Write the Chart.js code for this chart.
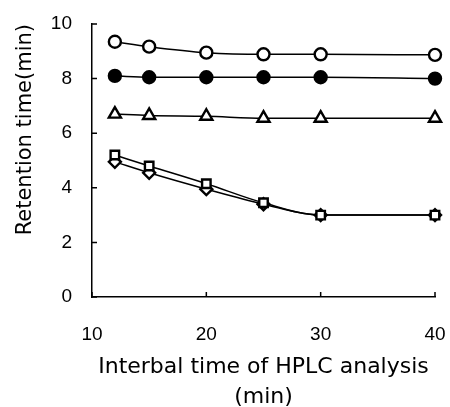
<!DOCTYPE html>
<html>
<head>
<meta charset="utf-8">
<script src="https://cdn.jsdelivr.net/npm/chart.js@4/dist/chart.umd.min.js"></script>
<style>
  html, body { margin: 0; padding: 0; background: #fff; }
  #wrap { width: 450px; height: 407px; }
</style>
</head>
<body>
<div id="wrap"><canvas id="myChart"></canvas></div>
<script>
// interval times (min)
var intervals = [12, 15, 20, 25, 30, 40];

// retention times (min) per peak
var openCircle = [9.35, 9.17, 8.95, 8.89, 8.89, 8.87];
var filledCircle = [8.1, 8.05, 8.05, 8.05, 8.05, 8.0];
var openTriangle = [6.7, 6.65, 6.62, 6.55, 6.55, 6.55];
var openSquare = [5.2, 4.8, 4.15, 3.45, 3.0, 3.0];
var openDiamond = [4.95, 4.55, 3.95, 3.4, 3.0, 3.0];

var yTicks = [0, 2, 4, 6, 8, 10];
var xTicks = [10, 20, 30, 40];

function toPoints(vals) {
	return intervals.map(function (x, i) { return { x: x, y: vals[i] }; });
}

function series(vals, style, fill, radius) {
	return {
		data: toPoints(vals),
		borderColor: '#000',
		borderWidth: 1.5,
		pointStyle: style,
		pointRadius: radius,
		pointBorderWidth: 2.4,
		pointBorderColor: '#000',
		pointBackgroundColor: fill,
		tension: 0.3,
		cubicInterpolationMode: 'monotone',
		clip: false
	};
}

// small inward tick marks like the original figure
var innerTicks = {
	id: 'innerTicks',
	afterDatasetsDraw: function (chart) {
		var ctx = chart.ctx;
		var xs = chart.scales.x, ys = chart.scales.y;
		ctx.save();
		ctx.strokeStyle = '#000';
		ctx.lineWidth = 1.5;
		ctx.beginPath();
		yTicks.forEach(function (v) {
			var py = ys.getPixelForValue(v);
			ctx.moveTo(xs.left, py);
			ctx.lineTo(xs.left + 5, py);
		});
		xTicks.forEach(function (v) {
			var px = xs.getPixelForValue(v);
			ctx.moveTo(px, ys.bottom);
			ctx.lineTo(px, ys.bottom - 5);
		});
		ctx.stroke();
		ctx.restore();
	}
};

// invisible outer ticks just make the gap between axis and labels
function hiddenGrid(len) {
	return { display: true, drawOnChartArea: false, drawTicks: true, tickLength: len, tickColor: 'rgba(0,0,0,0)' };
}

var ctx = document.getElementById('myChart').getContext('2d');
var myChart = new Chart(ctx, {
	type: 'line',
	data: {
		datasets: [
			series(openCircle, 'circle', '#fff', 6),
			series(filledCircle, 'circle', '#000', 6),
			series(openTriangle, 'triangle', '#fff', 7),
			series(openSquare, 'rect', '#fff', 6),
			series(openDiamond, 'rectRot', '#fff', 6)
		]
	},
	options: {
		responsive: true,
		maintainAspectRatio: false,
		animation: false,
		layout: { autoPadding: false, padding: { left: 13, right: 15, top: 24, bottom: 0 } },
		plugins: {
			legend: { display: false },
			tooltip: { enabled: false }
		},
		scales: {
			x: {
				type: 'linear',
				min: 10,
				max: 40,
				afterBuildTicks: function (axis) {
					axis.ticks = xTicks.map(function (v) { return { value: v }; });
				},
				afterFit: function (axis) { axis.height = 110; },
				grid: hiddenGrid(26),
				border: { display: true, color: '#000', width: 1.5 },
				ticks: {
					color: '#000',
					padding: 0,
					font: { family: 'Liberation Sans', size: 19 }
				},
				title: {
					display: true,
					text: ['Interbal time of HPLC analysis', '(min)'],
					color: '#000',
					font: { family: 'DejaVu Sans', size: 22, lineHeight: 1.4 },
					padding: { top: 0, bottom: -6 }
				}
			},
			y: {
				min: 0,
				max: 10,
				afterBuildTicks: function (axis) {
					axis.ticks = yTicks.map(function (v) { return { value: v }; });
				},
				afterFit: function (axis) { axis.width = 79; },
				grid: hiddenGrid(20),
				border: { display: true, color: '#000', width: 1.5 },
				ticks: {
					color: '#000',
					padding: 0,
					font: { family: 'Liberation Sans', size: 19 }
				},
				title: {
					display: true,
					text: 'Retention time(min)',
					align: 'end',
					color: '#000',
					font: { family: 'DejaVu Sans', size: 21 },
					padding: { top: 0, bottom: 0 }
				}
			}
		}
	},
	plugins: [innerTicks]
});
</script>
</body>
</html>
